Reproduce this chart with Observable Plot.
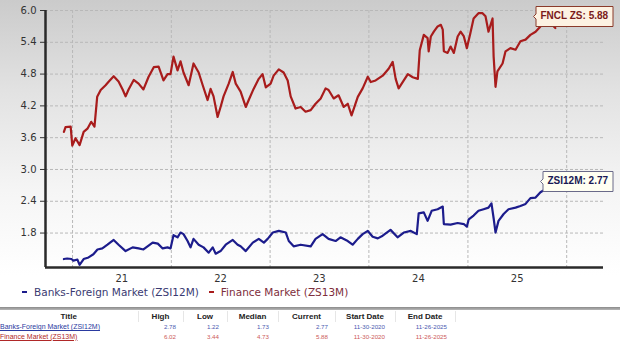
<!DOCTYPE html>
<html>
<head>
<meta charset="utf-8">
<script src="https://cdn.jsdelivr.net/npm/d3@7"></script>
<script src="https://cdn.jsdelivr.net/npm/@observablehq/plot@0.6"></script>
<style>
  html, body { margin: 0; padding: 0; background: #fff; }
  #wrap { position: relative; width: 620px; height: 352px; overflow: hidden;
    background: linear-gradient(to bottom, #cbcbcb 0px, #e2e2e2 90px, #f5f5f5 190px, #ffffff 275px, #ffffff 352px); }
  #chart { position: absolute; left: 0; top: 0; }
  #legend { position: absolute; left: 22px; top: 284px; font-family: "DejaVu Sans", sans-serif; font-size: 10.5px; line-height: 16px; white-space: nowrap; }
  #legend .sw { display: inline-block; width: 5px; height: 2.5px; vertical-align: middle; margin-right: 7px; position: relative; top: -1px; }
  #legend .item { margin-right: 10px; }
  #rule { position: absolute; left: 0; top: 307px; width: 620px; height: 3px; background: linear-gradient(to bottom, #8a8a8a, #b8b8b8); }
  #tbl { position: absolute; left: 0; top: 311px; border-collapse: collapse; font-family: "Liberation Sans", Arial, sans-serif; table-layout: fixed; }
  #tbl th { font-size: 8px; font-weight: bold; color: #222; text-align: center; height: 11px; padding: 0; border-right: 1px solid #e6e6e6; line-height: 11px; }
  #tbl td { font-size: 6.2px; height: 9.5px; padding: 0; line-height: 9.5px; text-align: right; }
  #tbl td.t { text-align: left; font-size: 7px; text-decoration: underline; }
</style>
</head>
<body>
<div id="wrap">
  <div id="chart"></div>
  <div id="legend"></div>
  <div id="rule"></div>
  <table id="tbl"></table>
</div>
<script>
// ---- Data ----
const seriesNames = ["Banks-Foreign Market (ZSI12M)", "Finance Market (ZS13M)"];
const seriesColors = ["#1c1c8c", "#a81c1c"];

const financeDates = ["2020-11-30","2020-12-06","2020-12-25","2020-12-31","2021-01-12","2021-01-27","2021-02-11","2021-02-25","2021-03-11","2021-03-23","2021-04-02","2021-04-15","2021-05-03","2021-05-15","2021-06-02","2021-06-20","2021-07-05","2021-07-16","2021-07-27","2021-08-15","2021-09-02","2021-09-20","2021-10-09","2021-10-28","2021-11-15","2021-12-03","2021-12-18","2021-12-29","2022-01-09","2022-01-24","2022-02-04","2022-02-15","2022-03-06","2022-03-24","2022-04-12","2022-04-27","2022-05-15","2022-05-26","2022-06-06","2022-06-21","2022-07-02","2022-07-13","2022-08-01","2022-08-16","2022-08-27","2022-09-14","2022-10-03","2022-10-14","2022-11-01","2022-11-20","2022-12-04","2022-12-16","2023-01-03","2023-01-14","2023-02-02","2023-02-20","2023-03-07","2023-03-18","2023-04-05","2023-04-24","2023-05-12","2023-05-31","2023-06-18","2023-07-07","2023-07-25","2023-08-05","2023-08-24","2023-09-11","2023-09-30","2023-10-15","2023-10-29","2023-11-21","2023-12-09","2023-12-28","2024-01-08","2024-01-26","2024-02-21","2024-03-14","2024-03-29","2024-04-09","2024-04-20","2024-05-09","2024-05-24","2024-06-11","2024-06-30","2024-07-07","2024-07-22","2024-08-05","2024-08-09","2024-08-17","2024-08-28","2024-09-11","2024-09-23","2024-09-30","2024-10-04","2024-10-18","2024-10-29","2024-11-10","2024-11-24","2024-12-05","2024-12-17","2024-12-28","2025-01-10","2025-01-22","2025-02-09","2025-02-24","2025-03-07","2025-03-18","2025-04-02","2025-04-06","2025-04-13","2025-04-20","2025-05-09","2025-05-20","2025-06-07","2025-06-26","2025-07-14","2025-08-02","2025-08-20","2025-09-08","2025-09-26","2025-10-15","2025-11-02","2025-11-20"];
const financeValues = [3.71,3.80,3.81,3.45,3.59,3.46,3.71,3.77,3.90,3.81,4.37,4.50,4.59,4.66,4.76,4.66,4.51,4.38,4.51,4.69,4.62,4.51,4.75,4.93,4.94,4.68,4.80,4.80,5.13,4.87,5.04,4.83,4.59,5.00,4.83,4.59,4.31,4.52,4.38,3.99,4.18,4.38,4.62,4.84,4.62,4.47,4.18,4.31,4.52,4.71,4.80,4.55,4.62,4.77,4.89,4.83,4.68,4.38,4.15,4.18,4.09,4.12,4.24,4.34,4.53,4.50,4.34,4.40,4.18,4.24,4.02,4.37,4.53,4.75,4.65,4.68,4.77,4.90,5.03,4.71,4.53,4.68,4.80,4.74,4.71,5.25,5.54,5.48,5.23,5.51,5.60,5.70,5.73,5.64,5.23,5.20,5.32,5.20,5.51,5.60,5.51,5.29,5.57,5.85,5.95,5.95,5.89,5.60,5.85,5.13,4.56,4.85,5.00,5.23,5.29,5.26,5.42,5.45,5.54,5.60,5.70,5.76,5.76,5.67];

const banksDates = ["2020-11-30","2020-12-12","2020-12-28","2021-01-04","2021-01-19","2021-01-27","2021-02-11","2021-03-01","2021-03-19","2021-04-03","2021-04-21","2021-05-10","2021-06-02","2021-06-20","2021-07-16","2021-08-11","2021-09-02","2021-09-20","2021-10-24","2021-11-12","2021-11-30","2021-12-18","2021-12-29","2022-01-09","2022-01-24","2022-02-04","2022-02-15","2022-03-02","2022-03-13","2022-03-24","2022-04-12","2022-04-30","2022-05-19","2022-06-03","2022-06-14","2022-07-02","2022-07-21","2022-08-16","2022-09-03","2022-09-14","2022-10-03","2022-10-29","2022-11-20","2022-12-09","2022-12-23","2023-01-11","2023-02-02","2023-02-28","2023-03-11","2023-03-29","2023-04-24","2023-05-31","2023-06-18","2023-07-14","2023-08-05","2023-08-31","2023-09-18","2023-10-15","2023-11-02","2023-11-21","2023-12-09","2023-12-28","2024-01-15","2024-02-03","2024-02-21","2024-03-21","2024-04-16","2024-05-09","2024-06-04","2024-06-26","2024-07-03","2024-07-22","2024-08-05","2024-08-20","2024-09-11","2024-09-30","2024-10-04","2024-10-29","2024-11-24","2024-12-17","2024-12-28","2025-01-04","2025-01-22","2025-02-09","2025-02-28","2025-03-18","2025-03-29","2025-04-06","2025-04-13","2025-04-24","2025-05-13","2025-05-31","2025-06-26","2025-07-14","2025-08-02","2025-08-20","2025-09-08","2025-09-26","2025-10-15","2025-10-26","2025-11-15"];
const banksValues = [1.31,1.32,1.31,1.28,1.30,1.20,1.31,1.34,1.40,1.49,1.51,1.58,1.67,1.58,1.46,1.53,1.51,1.49,1.62,1.60,1.51,1.53,1.51,1.76,1.72,1.81,1.78,1.65,1.53,1.69,1.58,1.53,1.43,1.53,1.41,1.46,1.58,1.67,1.58,1.55,1.46,1.62,1.69,1.62,1.69,1.81,1.84,1.81,1.65,1.55,1.58,1.55,1.69,1.78,1.69,1.65,1.72,1.65,1.58,1.69,1.78,1.84,1.73,1.70,1.75,1.86,1.72,1.81,1.84,1.78,2.17,2.19,2.03,2.22,2.25,2.30,1.97,1.96,1.99,1.97,1.92,2.06,2.13,2.22,2.25,2.28,2.36,2.08,1.81,2.03,2.16,2.25,2.28,2.31,2.35,2.46,2.47,2.57,2.63,2.60,2.72];

// Current-value callouts
const calloutTexts = ["ZSI12M: 2.77", "FNCL ZS: 5.88"];
const calloutValues = [2.77, 5.88];
const calloutDates = ["2025-09-26", "2025-09-01"];

// Axis ticks
const yTicks = [1.8, 2.4, 3.0, 3.6, 4.2, 4.8, 5.4, 6.0];
const yDomain = [1.15, 6.0];
const xDomain = ["2020-09-23", "2026-05-17"];
const yearGridDates = ["2021-01-01","2022-01-01","2023-01-01","2024-01-01","2025-01-01","2026-01-01"];
const xTickLabels = ["21", "22", "23", "24", "25"];
const xTickDates = ["2021-07-02","2022-07-02","2023-07-02","2024-07-02","2025-07-02"];

// Summary table
const tableHeaders = ["Title", "High", "Low", "Median", "Current", "Start Date", "End Date"];
const tableHigh = [2.78, 6.02];
const tableLow = [1.22, 3.44];
const tableMedian = [1.73, 4.73];
const tableCurrent = [2.77, 5.88];
const tableStart = ["11-30-2020", "11-30-2020"];
const tableEnd = ["11-26-2025", "11-26-2025"];

// ---- Build ----
const finance = financeDates.map((d, i) => ({date: new Date(d), value: financeValues[i]}));
const banks = banksDates.map((d, i) => ({date: new Date(d), value: banksValues[i]}));
const callouts = calloutTexts.map((t, i) => ({date: new Date(calloutDates[i]), value: calloutValues[i], label: t}));

const marks = [
  Plot.gridY(yTicks, {stroke: "#b8b8b8", strokeOpacity: 1, strokeDasharray: "3,2"}),
  Plot.gridX(yearGridDates.map(d => new Date(d)), {stroke: "#b8b8b8", strokeOpacity: 1, strokeDasharray: "3,2"}),
  Plot.axisY(yTicks, {tickSize: 5, tickPadding: 4, tickFormat: d => d.toFixed(1), fill: "#333", stroke: "#333", label: null}),
  Plot.axisX(xTickDates.map(d => new Date(d)), {tickSize: 0, tickPadding: 7, tickFormat: (d, i) => xTickLabels[i], fill: "#333", label: null}),
  Plot.line(finance, {x: "date", y: "value", stroke: seriesColors[1], strokeWidth: 2.2, strokeLinejoin: "round"}),
  Plot.line(banks, {x: "date", y: "value", stroke: seriesColors[0], strokeWidth: 2.2, strokeLinejoin: "round"}),
  Plot.ruleY([yDomain[0]], {stroke: "#2a2a2a", strokeWidth: 2.5}),
  Plot.ruleX([new Date(xDomain[0])], {stroke: "#2a2a2a", strokeWidth: 2.5})
];
const tipStyles = [
  {fill: "#fffff2", stroke: "#6a6a8a", text: "#1a1a55"},
  {fill: "#fdf2e2", stroke: "#8a3a2a", text: "#7a1a1a"}
];
if (Plot.tip) {
  callouts.forEach((c, i) => {
    marks.push(Plot.tip([c], {x: "date", y: "value", title: "label", anchor: "left", pointerSize: 5,
      textPadding: 4.5, fontSize: 10, fontWeight: "bold", fontFamily: "Liberation Sans, Arial, sans-serif",
      fill: tipStyles[i].fill, stroke: tipStyles[i].stroke, pathFilter: "none"}));
  });
} else {
  callouts.forEach((c, i) => {
    marks.push(Plot.text([c], {x: "date", y: "value", text: "label", textAnchor: "start", dx: 10, fontWeight: "bold", fill: tipStyles[i].text}));
  });
}

const chart = Plot.plot({
  width: 620,
  height: 285,
  marginTop: 10,
  marginBottom: 18,
  marginLeft: 45,
  marginRight: 17,
  style: {background: "transparent", fontFamily: "DejaVu Sans, sans-serif", fontSize: "10px", color: "#333", overflow: "visible"},
  x: {type: "utc", domain: xDomain.map(d => new Date(d)), axis: null},
  y: {domain: yDomain, axis: null},
  marks
});
document.getElementById("chart").appendChild(chart);

// Colour the callout texts
chart.querySelectorAll('g[aria-label="tip"]').forEach((g, i) => {
  g.querySelectorAll("text").forEach(t => { t.setAttribute("fill", tipStyles[i].text); t.setAttribute("stroke", "none"); });
  g.querySelectorAll("path").forEach(p => { p.setAttribute("stroke-width", "1"); });
});

// Legend
const legendColors = ["#3a3a72", "#7e2e3c"];
document.getElementById("legend").innerHTML = seriesNames.map((n, i) =>
  `<span class="item"><span class="sw" style="background:${seriesColors[i]}"></span><span style="color:${legendColors[i]}">${n}</span></span>`).join("");

// Table
const colWidths = [138, 45, 44, 51, 57, 60, 60];
const padR = [0, 7, 8, 9, 7, 10, 8];
const rowColors = [["#2a3aa0", "#4a5ab0"], ["#b02828", "#cc5a5a"]];
const tbl = document.getElementById("tbl");
let html = "<colgroup>" + colWidths.map(w => `<col style="width:${w}px">`).join("") + "</colgroup>";
html += "<tr>" + tableHeaders.map(h => `<th>${h}</th>`).join("") + "</tr>";
seriesNames.forEach((n, i) => {
  const vals = [tableHigh[i].toFixed(2), tableLow[i].toFixed(2), tableMedian[i].toFixed(2), tableCurrent[i].toFixed(2), tableStart[i], tableEnd[i]];
  html += `<tr><td class="t" style="color:${rowColors[i][0]}">${n}</td>` +
    vals.map((v, j) => `<td style="color:${rowColors[i][1]};padding-right:${padR[j + 1]}px">${v}</td>`).join("") + "</tr>";
});
tbl.innerHTML = html;
tbl.style.width = colWidths.reduce((a, b) => a + b, 0) + "px";
</script>
</body>
</html>
